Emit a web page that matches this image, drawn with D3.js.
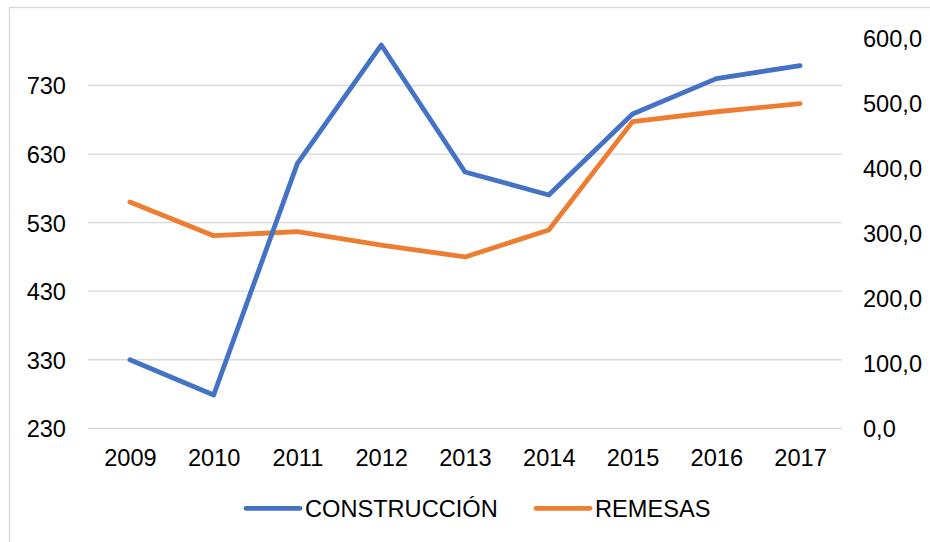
<!DOCTYPE html>
<html>
<head>
<meta charset="utf-8">
<script src="https://cdn.jsdelivr.net/npm/d3@7"></script>
<style>
body { margin: 0; background: #fff; }
text { font-family: "Liberation Sans", Arial, sans-serif; fill: #000; }
</style>
</head>
<body>
<script>
// data
var years = ["2009", "2010", "2011", "2012", "2013", "2014", "2015", "2016", "2017"];
var construccion = [330, 278.6, 616.5, 789, 603.8, 570.3, 688.4, 740, 759]; // left axis
var remesas = [347.5, 295.7, 301.9, 281.4, 263, 304.5, 470.8, 486, 498.4]; // right axis
var leftTicks = [230, 330, 430, 530, 630, 730];
var rightTicks = [0, 100, 200, 300, 400, 500, 600];
var seriesNames = ["CONSTRUCCIÓN", "REMESAS"];
var colors = ["#4472C4", "#ED7D31"];

var width = 930, height = 542;
var fs = 23.6;

var svg = d3.select("body").append("svg")
  .attr("width", width)
  .attr("height", height);

// chart frame (runs off the picture on the right and bottom)
svg.append("rect")
  .attr("x", 9.5).attr("y", 7.5)
  .attr("width", 960).attr("height", 600)
  .attr("fill", "none")
  .attr("stroke", "#d9d9d9")
  .attr("stroke-width", 1.3);

var x = d3.scalePoint().domain(years).range([88, 842]).padding(0.5);
var yL = d3.scaleLinear().domain([230, 800]).range([428.3, 37.5]);
var yR = d3.scaleLinear().domain([0, 600]).range([428.3, 37.5]);

// gridlines
svg.append("g")
  .selectAll("line")
  .data(leftTicks)
  .enter()
  .append("line")
  .attr("x1", 88).attr("x2", 842)
  .attr("y1", function(d){ return yL(d); })
  .attr("y2", function(d){ return yL(d); })
  .attr("stroke", "#d9d9d9")
  .attr("stroke-width", 1.3);

// left axis
var axL = svg.append("g")
  .attr("transform", "translate(66,0)")
  .call(d3.axisLeft(yL).tickValues(leftTicks).tickSize(0).tickPadding(0));
axL.select(".domain").remove();
axL.selectAll("text").style("font-size", fs + "px").attr("dy", "0.36em");

// right axis
var fmt = function(d){ return d3.format(".1f")(d).replace(".", ","); };
var axR = svg.append("g")
  .attr("transform", "translate(863,0)")
  .call(d3.axisRight(yR).tickValues(rightTicks).tickFormat(fmt).tickSize(0).tickPadding(0));
axR.select(".domain").remove();
axR.selectAll("text").style("font-size", fs + "px").attr("dy", "0.36em");

// x axis
var axX = svg.append("g")
  .attr("transform", "translate(0,428.3)")
  .call(d3.axisBottom(x).tickSize(0).tickPadding(0));
axX.select(".domain").remove();
axX.selectAll("text").style("font-size", fs + "px").attr("dy", null).attr("y", 37.7);

// lines
var lineL = d3.line()
  .x(function(d, i){ return x(years[i]); })
  .y(function(d){ return yL(d); });
var lineR = d3.line()
  .x(function(d, i){ return x(years[i]); })
  .y(function(d){ return yR(d); });

svg.append("path")
  .datum(remesas)
  .attr("d", lineR)
  .attr("fill", "none")
  .attr("stroke", colors[1])
  .attr("stroke-width", 4.8)
  .attr("stroke-linejoin", "round")
  .attr("stroke-linecap", "round");

svg.append("path")
  .datum(construccion)
  .attr("d", lineL)
  .attr("fill", "none")
  .attr("stroke", colors[0])
  .attr("stroke-width", 4.8)
  .attr("stroke-linejoin", "round")
  .attr("stroke-linecap", "round");

// legend
var legX = [246, 536];
var leg = svg.append("g");
seriesNames.forEach(function(name, i){
  leg.append("line")
    .attr("x1", legX[i]).attr("x2", legX[i] + 54)
    .attr("y1", 508.3).attr("y2", 508.3)
    .attr("stroke", colors[i])
    .attr("stroke-width", 4.8)
    .attr("stroke-linecap", "round");
  leg.append("text")
    .attr("x", legX[i] + 59)
    .attr("y", 516.5)
    .style("font-size", fs + "px")
    .text(name);
});
</script>
</body>
</html>
